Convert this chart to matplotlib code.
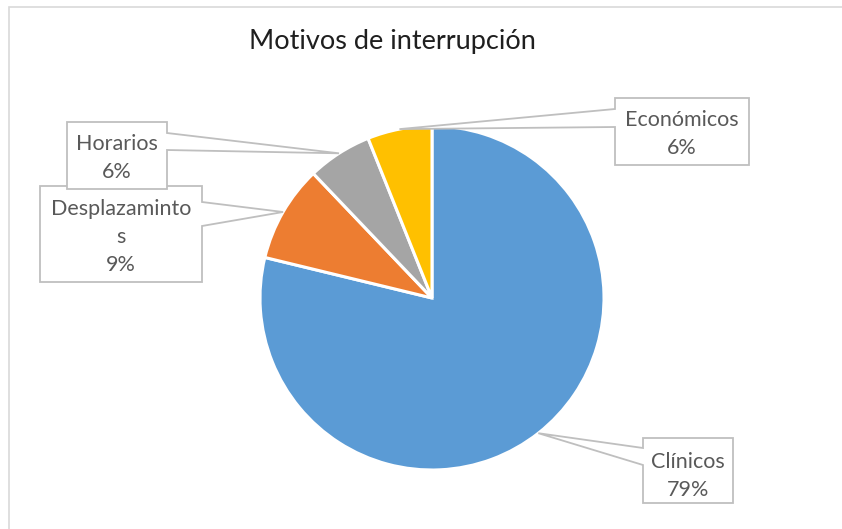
import matplotlib
matplotlib.use("Agg")
import matplotlib.pyplot as plt
from matplotlib.patches import Polygon, Rectangle
import numpy as np

plt.rcParams['font.family'] = ['Lato', 'DejaVu Sans']

categories = ["Clínicos", "Desplazamintos", "Horarios", "Económicos"]
display_names = ["Clínicos", "Desplazaminto\ns", "Horarios", "Económicos"]
counts = [26, 3, 2, 2]
colors = ["#5B9BD5", "#ED7D31", "#A5A5A5", "#FFC000"]
title = "Motivos de interrupción"

W, H = 842, 529
fig = plt.figure(figsize=(W / 100, H / 100), dpi=100)
ax = fig.add_axes([0, 0, 1, 1])

def Y(y):
    return H - y

cx, cy, R = 432, Y(298), 172
wedges, _ = ax.pie(counts, colors=colors, startangle=90, counterclock=False,
                   center=(cx, cy), radius=R,
                   wedgeprops=dict(edgecolor="white", linewidth=2.2))
ax.set_xlim(0, W)
ax.set_ylim(0, H)
ax.set_aspect("equal")
ax.axis("off")

# chart border
ax.add_patch(Rectangle((9, Y(7) - 600), 900, 600, fill=False,
                       edgecolor="#D9D9D9", linewidth=1.2, zorder=0))

ax.text(392, Y(41), title, ha="center", va="center", fontsize=19.5,
        color="#1F1F1F")

# label boxes: (left, top, right, bottom) in pixels, side of pointer, attach y range
boxes = {
    "Clínicos": ((643, 438, 733, 503), "left", (448, 465), (688, 476)),
    "Desplazamintos": ((40, 186, 202, 282), "right", (202, 226), (121, 237)),
    "Horarios": ((67, 122, 167, 189), "right", (133, 150), (117, 158)),
    "Económicos": ((615, 98, 749, 165), "left", (109, 127), (682, 134)),
}

total = sum(counts)
for w, cat, name, v in zip(wedges, categories, display_names, counts):
    mid = np.deg2rad((w.theta1 + w.theta2) / 2)
    tip = (cx + R * np.cos(mid), cy + R * np.sin(mid))
    (l, t, r, b), side, (a1, a2), (tx, ty) = boxes[cat]
    if side == "right":
        pts = [(l, Y(t)), (r, Y(t)), (r, Y(a1)), tip, (r, Y(a2)), (r, Y(b)), (l, Y(b))]
    else:
        pts = [(l, Y(t)), (r, Y(t)), (r, Y(b)), (l, Y(b)), (l, Y(a2)), tip, (l, Y(a1))]
    ax.add_patch(Polygon(pts, closed=True, facecolor="white",
                         edgecolor="#BFBFBF", linewidth=1.3, zorder=3))
    ax.text(tx, Y(ty), f"{name}\n{v / total * 100:.0f}%", ha="center",
            va="center", fontsize=15.5, color="#595959", linespacing=1.5,
            zorder=4)

fig.savefig("out.png", dpi=100)
